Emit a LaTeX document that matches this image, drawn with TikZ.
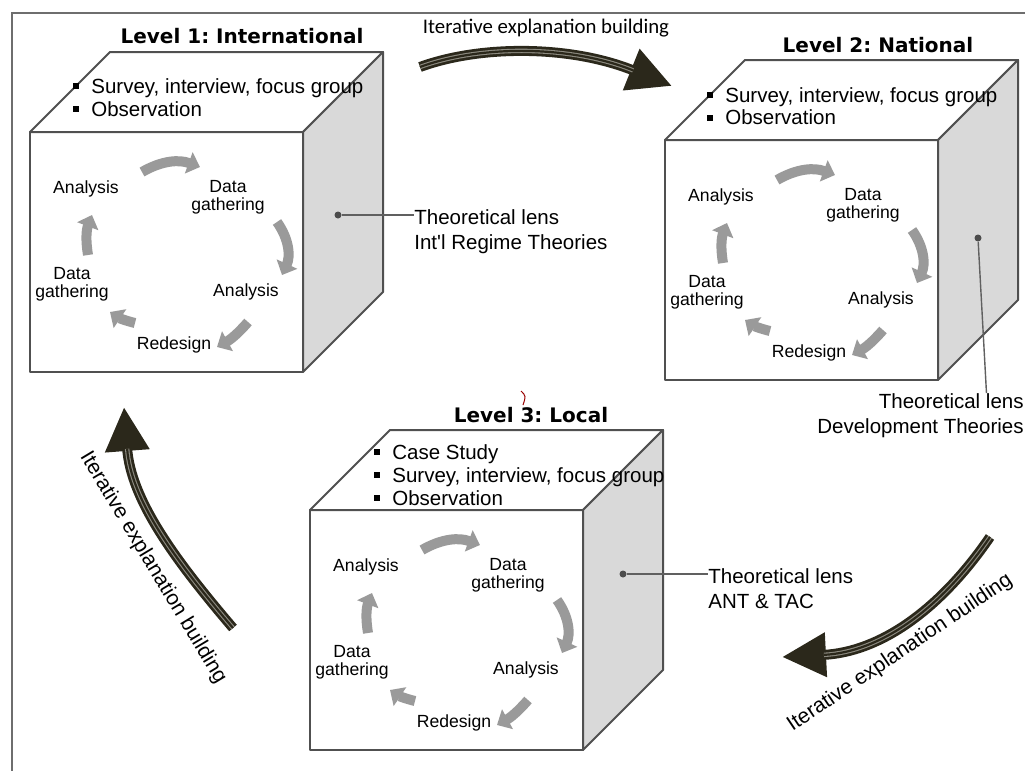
\documentclass[tikz,border=0pt]{standalone}
\usepackage{fontspec}
\setmainfont{Liberation Sans}
\newfontfamily\headfont{DejaVu Sans}
\newfontfamily\loopfont{Carlito}
\usetikzlibrary{arrows.meta}
\frenchspacing

\definecolor{edgegray}{HTML}{505050}
\definecolor{sidegray}{HTML}{D9D9D9}
\definecolor{cyclegray}{HTML}{9A9A9A}
\definecolor{loopdark}{HTML}{2B281B}
\definecolor{loopstripe}{HTML}{8C8A80}
\definecolor{framegray}{HTML}{6E6E6E}

\newcommand{\sqbul}{\rule[2.2pt]{2.6pt}{2.6pt}\hspace{6.4pt}}
\newcommand{\apos}{{\addfontfeature{Ligatures=TeXOff}'}}

\tikzset{
  cubeline/.style={draw=edgegray, line width=1pt, line join=round},
  levelhead/.style={font=\headfont\bfseries\fontsize{10}{12}\selectfont, inner sep=0pt},
  methods/.style={font=\fontsize{10.25}{11.5}\selectfont, align=left, inner sep=0pt, anchor=base west},
  lens/.style={font=\fontsize{10.25}{12.5}\selectfont, align=left, inner sep=0pt},
  cyclabel/.style={font=\fontsize{8.8}{8.8}\selectfont, align=center, inner sep=0pt},
  cycarrow/.style={draw=cyclegray, line width=5pt, -{Triangle[length=6pt,width=11pt]}},
  lensdot/.style={circle, fill=gray!60!black, inner sep=0pt, minimum size=3.5pt},
  lensline/.style={draw=gray!75!black, line width=0.7pt},
  loopshaft/.style={draw=loopdark, line width=5pt, -{Triangle[length=22pt,width=21pt]},
    postaction={draw=loopstripe, -, line width=0.55pt, double=loopdark, double distance=1.1pt, shorten >=21pt}},
  looplabel/.style={font=\fontsize{10.5}{12}\selectfont, inner sep=0pt},
  pics/levelcube/.style={code={
    \draw[cubeline, fill=white] (0,0) rectangle (273,240);
    \draw[cubeline, fill=white] (0,0) -- (80,-80) -- (353,-80) -- (273,0) -- cycle;
    \draw[cubeline, fill=sidegray] (273,0) -- (353,-80) -- (353,160) -- (273,240) -- cycle;
    % research cycle on the front face
    \node[cyclabel] (-a1) at (56,57) {Analysis};
    \node[cyclabel] (-d1) at (198,65) {Data\\gathering};
    \node[cyclabel] (-a2) at (216,160) {Analysis};
    \node[cyclabel] (-r1) at (144,213) {Redesign};
    \node[cyclabel] (-d2) at (42,152) {Data\\gathering};
    \draw[cycarrow] (112,40) to[bend left=25] (170,35);
    \draw[cycarrow] (247,90) to[bend left=30] (252,143);
    \draw[cycarrow] (218,190) to[bend left=10] (187,215);
    \draw[cycarrow] (105,191) to[bend left=10] (80,180);
    \draw[cycarrow] (58,123) to[bend left=15] (62,83);
  }}
}

\begin{document}
\begin{tikzpicture}[x=0.5pt, y=-0.5pt]
  \useasboundingbox (0,0) rectangle (1025,771);
  \draw[framegray, line width=1.2pt] (1030,13) -- (12,13) -- (12,780);

  % the three levels
  \pic (C1) at (30,132) {levelcube};
  \pic (C2) at (665,140) {levelcube};
  \pic (C3) at (310,510) {levelcube};

  \node[levelhead] (H1) at (242,36) {Level 1: International};
  \node[levelhead] (H2) at (878,45) {Level 2: National};
  \node[levelhead] (H3) at (531,415) {Level 3: Local};

  % base anchor sits on the last line
  \node[methods] (M1) at (73,116) {\sqbul Survey, interview, focus group\\ \sqbul Observation};
  \node[methods] (M2) at (707,125) {\sqbul Survey, interview, focus group\\ \sqbul Observation};
  \node[methods] (M3) at (374,505) {\sqbul Case Study\\ \sqbul Survey, interview, focus group\\ \sqbul Observation};

  % theoretical lenses
  \node[lensdot] (K1) at (338,215) {};
  \node[lens, anchor=west] (T1) at (414,232) {Theoretical lens\\Int\apos l Regime Theories};
  \draw[lensline] (K1) -- (K1 -| T1.west);
  \node[lensdot] (K2) at (978,238) {};
  \node[lens, align=right, anchor=north east] (T2) at (1024,393) {Theoretical lens\\Development Theories};
  \draw[lensline] (K2) -- ([xshift=33pt]T2.north);
  \node[lensdot] (K3) at (623,574) {};
  \node[lens, anchor=west] (T3) at (708,589) {Theoretical lens\\ANT \& TAC};
  \draw[lensline] (K3) -- (K3 -| T3.west);

  % iterative explanation building
  \coordinate (S1) at (420,67);  \coordinate (E1) at (672,86);
  \coordinate (S2) at (990,537); \coordinate (E2) at (782,657);
  \coordinate (S3) at (233,628); \coordinate (E3) at (124,407);
  \draw[loopshaft] (S1) .. controls (480,45) and (570,45) .. (E1);
  \draw[loopshaft] (S2) .. controls (940,610) and (880,652) .. (E2);
  \draw[loopshaft] (S3) .. controls (175,560) and (131,500) .. (E3);
  \node[font=\loopfont\fontsize{10.4}{12}\selectfont, inner sep=0pt] (B1) at (546,28) {Iterative explanation building};
  \node[looplabel, rotate=34] (B2) at (900,653) {Iterative explanation building};
  \node[looplabel, rotate=-59] (B3) at (153,568) {Iterative explanation building};

  \draw[red!60!black, line width=0.5pt] (521,391) .. controls (526,396) .. (523,405);
\end{tikzpicture}
\end{document}
